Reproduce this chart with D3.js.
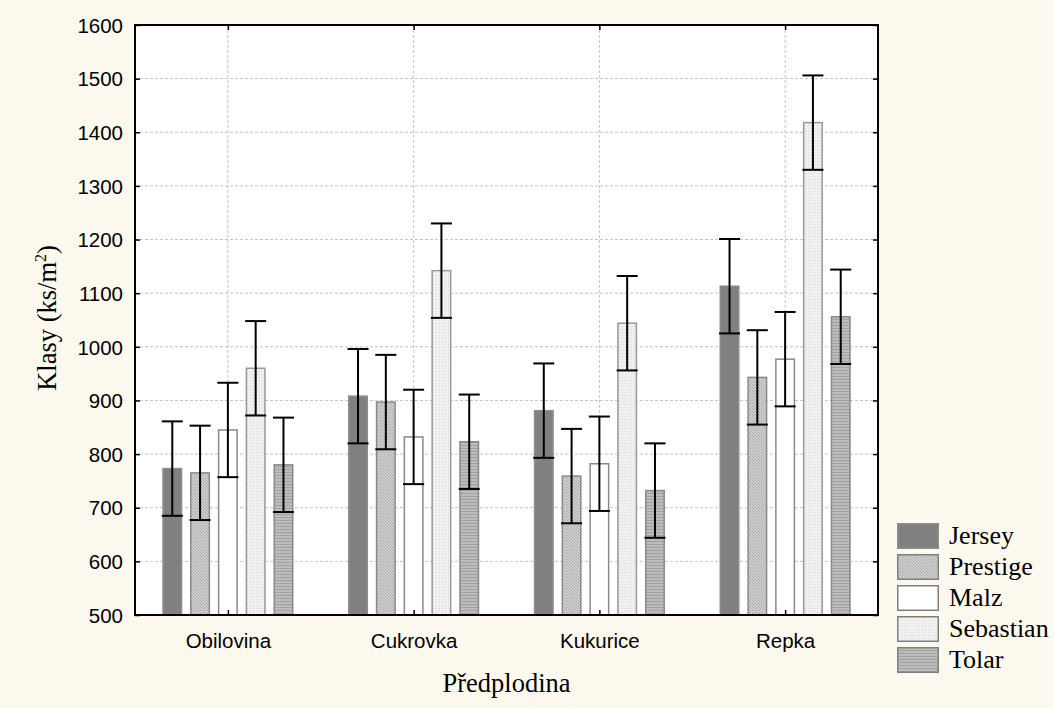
<!DOCTYPE html>
<html>
<head>
	<meta charset="utf-8">
	<title>Klasy</title>
	<script type="text/javascript" src="https://cdn.jsdelivr.net/npm/d3@7"></script>
	<style>
		body { margin: 0; background: #fdf9ef; }
	</style>
</head>
<body>
	<script type="text/javascript">
		// data
		var categories = ["Obilovina", "Cukrovka", "Kukurice", "Repka"];
		var series = ["Jersey", "Prestige", "Malz", "Sebastian", "Tolar"];
		var jersey    = [773, 908, 881, 1113];
		var prestige  = [765, 897, 759, 943];
		var malz      = [845, 832, 782, 977];
		var sebastian = [960, 1142, 1044, 1418];
		var tolar     = [780, 823, 732, 1056];
		var errHalf   = [88, 88, 88, 88]; // +/- pro kazdou predplodinu
		var yTicks = [500, 600, 700, 800, 900, 1000, 1100, 1200, 1300, 1400, 1500, 1600];

		var values = [jersey, prestige, malz, sebastian, tolar];

		var W = 1054, H = 708;
		var margin = {left: 135, right: 176, top: 25, bottom: 93};
		var pw = W - margin.left - margin.right;
		var ph = H - margin.top - margin.bottom;

		var svg = d3.select("body").append("svg")
			.attr("width", W)
			.attr("height", H)
			.style("display", "block");

		svg.append("rect").attr("width", W).attr("height", H).attr("fill", "#fdf9ef");

		// vzory vyplni
		var defs = svg.append("defs");
		var p1 = defs.append("pattern").attr("id", "pPrestige").attr("patternUnits", "userSpaceOnUse")
			.attr("width", 3).attr("height", 3);
		p1.append("rect").attr("width", 3).attr("height", 3).attr("fill", "#cfcfcf");
		p1.append("rect").attr("x", 0).attr("y", 0).attr("width", 1).attr("height", 1).attr("fill", "#a8a8a8");
		p1.append("rect").attr("x", 1).attr("y", 1).attr("width", 1).attr("height", 1).attr("fill", "#b4b4b4");
		p1.append("rect").attr("x", 2).attr("y", 2).attr("width", 1).attr("height", 1).attr("fill", "#a8a8a8");

		var p2 = defs.append("pattern").attr("id", "pSebastian").attr("patternUnits", "userSpaceOnUse")
			.attr("width", 3).attr("height", 3);
		p2.append("rect").attr("width", 3).attr("height", 3).attr("fill", "#f0f0f0");
		p2.append("rect").attr("x", 1).attr("y", 1).attr("width", 1).attr("height", 1).attr("fill", "#d8d8d8");

		var p3 = defs.append("pattern").attr("id", "pTolar").attr("patternUnits", "userSpaceOnUse")
			.attr("width", 4).attr("height", 3);
		p3.append("rect").attr("width", 4).attr("height", 3).attr("fill", "#bcbcbc");
		p3.append("rect").attr("y", 0).attr("width", 4).attr("height", 1).attr("fill", "#a2a2a2");

		var fills = ["#808080", "url(#pPrestige)", "#ffffff", "url(#pSebastian)", "url(#pTolar)"];
		var strokes = ["#8c8c8c", "#8a8a8a", "#8a8a8a", "#999999", "#8a8a8a"];

		var g = svg.append("g").attr("transform", "translate(" + margin.left + "," + margin.top + ")");

		var x0 = d3.scaleBand().domain(categories).range([0, pw]);
		var x1 = d3.scaleBand().domain(series).range([-65.6, 65.6]).paddingInner(0.28);
		var y = d3.scaleLinear().domain([500, 1600]).range([ph, 0]);

		g.append("rect").attr("width", pw).attr("height", ph).attr("fill", "#ffffff");

		// mrizka
		g.selectAll(".hgrid").data(yTicks.slice(1, -1)).enter().append("line")
			.attr("x1", 0).attr("x2", pw)
			.attr("y1", function(d){ return y(d); }).attr("y2", function(d){ return y(d); })
			.attr("stroke", "#c4c4c4").attr("stroke-dasharray", "3,2").attr("stroke-width", 1);
		g.selectAll(".vgrid").data(categories).enter().append("line")
			.attr("x1", function(d){ return x0(d) + x0.bandwidth() / 2; })
			.attr("x2", function(d){ return x0(d) + x0.bandwidth() / 2; })
			.attr("y1", 0).attr("y2", ph)
			.attr("stroke", "#c4c4c4").attr("stroke-dasharray", "3,2").attr("stroke-width", 1);

		// sloupce
		var rows = [];
		categories.forEach(function(c, i){
			series.forEach(function(s, j){
				rows.push({cat: c, ser: s, j: j, v: values[j][i], e: errHalf[i]});
			});
		});

		function bx(d){ return x0(d.cat) + x0.bandwidth() / 2 + x1(d.ser); }

		g.selectAll(".bar").data(rows).enter().append("rect")
			.attr("x", function(d){ return bx(d) + 0.75; })
			.attr("y", function(d){ return y(d.v); })
			.attr("width", x1.bandwidth() - 1.5)
			.attr("height", function(d){ return ph - y(d.v); })
			.attr("fill", function(d){ return fills[d.j]; })
			.attr("stroke", function(d){ return strokes[d.j]; })
			.attr("stroke-width", 1.5);

		// chybove usecky
		var eb = g.selectAll(".err").data(rows).enter().append("g")
			.attr("stroke", "#000").attr("stroke-width", 2);
		eb.append("line")
			.attr("x1", function(d){ return bx(d) + x1.bandwidth() / 2; })
			.attr("x2", function(d){ return bx(d) + x1.bandwidth() / 2; })
			.attr("y1", function(d){ return y(d.v + d.e); })
			.attr("y2", function(d){ return y(d.v - d.e); });
		eb.append("line")
			.attr("x1", function(d){ return bx(d) - 0.5; })
			.attr("x2", function(d){ return bx(d) + x1.bandwidth() + 0.5; })
			.attr("y1", function(d){ return y(d.v + d.e); })
			.attr("y2", function(d){ return y(d.v + d.e); });
		eb.append("line")
			.attr("x1", function(d){ return bx(d) - 0.5; })
			.attr("x2", function(d){ return bx(d) + x1.bandwidth() + 0.5; })
			.attr("y1", function(d){ return y(d.v - d.e); })
			.attr("y2", function(d){ return y(d.v - d.e); });

		// osy
		var xc = d3.scalePoint().domain(categories).range([x0.bandwidth() / 2, pw - x0.bandwidth() / 2]);
		var axL = g.append("g").call(d3.axisLeft(y).tickValues(yTicks).tickFormat(d3.format("d")).tickSize(-5).tickPadding(12));
		var axR = g.append("g").attr("transform", "translate(" + pw + ",0)")
			.call(d3.axisRight(y).tickValues(yTicks).tickSize(-5).tickFormat(""));
		var axB = g.append("g").attr("transform", "translate(0," + ph + ")")
			.call(d3.axisBottom(xc).tickSize(-5).tickPadding(18));
		var axT = g.append("g").call(d3.axisTop(xc).tickSize(-5).tickFormat(""));

		[axL, axR, axB, axT].forEach(function(a){
			a.select(".domain").remove();
			a.selectAll(".tick line").attr("stroke", "#000").attr("stroke-width", 1.5);
			a.selectAll("text").attr("fill", "#000")
				.style("font-family", "'Liberation Sans', Arial, sans-serif")
				.style("font-size", "20.5px");
		});
		axL.selectAll("text").attr("dy", "0.35em");
		axB.selectAll("text").attr("dy", "0.71em");

		g.append("rect").attr("width", pw).attr("height", ph)
			.attr("fill", "none").attr("stroke", "#000").attr("stroke-width", 2);

		// popisky os
		var serif = "'Liberation Serif', 'Times New Roman', serif";
		var yt = svg.append("text")
			.attr("transform", "translate(56," + (margin.top + ph / 2 - 2) + ") rotate(-90)")
			.attr("text-anchor", "middle")
			.style("font-family", serif).style("font-size", "26.5px").attr("fill", "#000");
		yt.append("tspan").text("Klasy (ks/m");
		yt.append("tspan").attr("dy", "-10").style("font-size", "16px").text("2");
		yt.append("tspan").attr("dy", "10").text(")");

		svg.append("text")
			.attr("x", margin.left + pw / 2).attr("y", 692)
			.attr("text-anchor", "middle")
			.style("font-family", serif).style("font-size", "26.5px").attr("fill", "#000")
			.text("Předplodina");

		// legenda
		var lg = svg.selectAll(".leg").data(series).enter().append("g")
			.attr("transform", function(d, i){ return "translate(897," + (523 + i * 31) + ")"; });
		lg.append("rect").attr("x", 0.75).attr("y", 0.75).attr("width", 40.5).attr("height", 24.5)
			.attr("fill", function(d, i){ return i === 0 ? "#808080" : fills[i]; })
			.attr("stroke", function(d, i){ return i === 0 ? "#8c8c8c" : "#808080"; })
			.attr("stroke-width", 1.5);
		lg.append("text").attr("x", 52).attr("y", 21)
			.style("font-family", serif).style("font-size", "26px").attr("fill", "#000")
			.text(function(d){ return d; });
	</script>
</body>
</html>
